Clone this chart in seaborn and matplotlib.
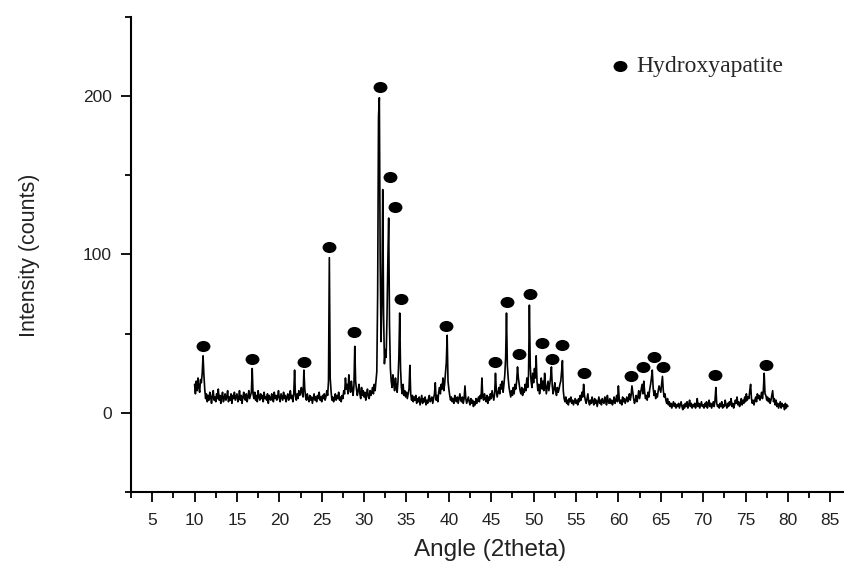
import numpy as np
import pandas as pd
import matplotlib
matplotlib.use("Agg")
import matplotlib.pyplot as plt
from matplotlib.path import Path
from matplotlib.transforms import Affine2D
from matplotlib.ticker import MultipleLocator
import seaborn as sns

# XRD scan, 10-80 deg, 0.1 deg step (one row per degree)
start_angle = 10.0
step = 0.1
intensity_rows = [
    [18, 12, 20, 14, 22, 16, 13, 21, 19, 25],   # 10
    [36, 24, 15, 9, 12, 7, 11, 8, 13, 10],      # 11
    [6, 11, 14, 8, 10, 7, 12, 9, 15, 8],        # 12
    [11, 6, 10, 13, 7, 9, 12, 8, 10, 14],       # 13
    [7, 10, 8, 12, 6, 11, 9, 13, 8, 10],        # 14
    [12, 7, 9, 14, 8, 11, 6, 10, 13, 9],        # 15
    [8, 12, 7, 10, 14, 9, 11, 13, 28, 12],      # 16
    [9, 13, 8, 11, 7, 14, 10, 8, 12, 9],        # 17
    [11, 7, 13, 9, 10, 8, 12, 6, 11, 9],        # 18
    [8, 12, 10, 7, 13, 9, 11, 8, 10, 14],       # 19
    [9, 7, 12, 10, 8, 13, 9, 11, 7, 10],        # 20
    [12, 8, 10, 14, 9, 11, 7, 12, 27, 11],      # 21
    [8, 12, 9, 14, 11, 13, 16, 12, 10, 27],     # 22
    [15, 10, 8, 12, 9, 7, 11, 8, 10, 6],        # 23
    [9, 12, 8, 10, 7, 11, 9, 13, 8, 10],        # 24
    [7, 11, 9, 12, 8, 10, 14, 11, 20, 98],      # 25
    [22, 14, 8, 10, 7, 9, 12, 8, 11, 9],        # 26
    [13, 8, 10, 7, 11, 9, 14, 12, 22, 15],      # 27
    [18, 12, 24, 16, 13, 20, 15, 11, 17, 42],   # 28
    [20, 15, 11, 14, 18, 12, 9, 16, 11, 14],    # 29
    [10, 13, 8, 12, 15, 10, 9, 14, 11, 13],     # 30
    [16, 12, 18, 14, 20, 26, 75, 187, 199, 95], # 31
    [45, 70, 141, 62, 31, 40, 35, 60, 95, 123], # 32
    [55, 28, 20, 16, 24, 18, 14, 22, 17, 13],   # 33
    [20, 35, 63, 28, 16, 12, 18, 11, 14, 10],   # 34
    [13, 9, 12, 15, 30, 12, 8, 11, 7, 10],      # 35
    [8, 11, 6, 9, 7, 10, 5, 8, 11, 6],          # 36
    [9, 7, 10, 5, 8, 6, 9, 11, 7, 8],           # 37
    [10, 6, 9, 12, 19, 8, 11, 7, 13, 16],       # 38
    [12, 18, 15, 22, 14, 18, 25, 32, 49, 20],   # 39
    [15, 11, 8, 10, 7, 9, 6, 11, 8, 7],         # 40
    [10, 6, 9, 12, 8, 7, 10, 6, 9, 17],         # 41
    [9, 6, 8, 10, 7, 5, 9, 6, 8, 4],            # 42
    [7, 5, 9, 6, 8, 10, 7, 11, 9, 22],          # 43
    [10, 8, 12, 9, 7, 11, 6, 10, 8, 12],        # 44
    [9, 14, 11, 8, 12, 25, 14, 10, 13, 16],     # 45
    [12, 18, 15, 20, 13, 18, 24, 35, 63, 30],   # 46
    [22, 16, 13, 10, 14, 11, 16, 12, 18, 15],   # 47
    [20, 29, 22, 18, 14, 12, 16, 11, 15, 13],   # 48
    [18, 14, 22, 16, 24, 68, 30, 20, 16, 25],   # 49
    [19, 28, 22, 36, 20, 14, 18, 12, 16, 22],   # 50
    [15, 20, 14, 25, 18, 12, 16, 20, 14, 18],   # 51
    [22, 29, 17, 12, 15, 19, 14, 11, 16, 13],   # 52
    [15, 18, 20, 26, 33, 14, 9, 7, 10, 6],      # 53
    [8, 5, 9, 7, 10, 6, 8, 5, 7, 9],            # 54
    [6, 8, 5, 9, 7, 11, 8, 13, 10, 18],         # 55
    [11, 8, 6, 9, 12, 7, 5, 8, 6, 10],          # 56
    [7, 5, 9, 6, 8, 4, 7, 10, 6, 8],            # 57
    [5, 9, 7, 6, 10, 8, 5, 11, 7, 6],           # 58
    [9, 6, 8, 5, 7, 10, 6, 8, 11, 7],           # 59
    [17, 9, 6, 8, 5, 10, 7, 9, 6, 8],           # 60
    [10, 7, 9, 12, 8, 11, 17, 13, 9, 6],        # 61
    [8, 11, 7, 10, 14, 9, 12, 15, 18, 12],      # 62
    [20, 13, 9, 11, 8, 13, 10, 15, 18, 22],     # 63
    [27, 16, 11, 14, 9, 12, 10, 14, 17, 15],    # 64
    [13, 18, 23, 14, 10, 12, 8, 6, 9, 5],       # 65
    [7, 4, 6, 3, 5, 7, 4, 6, 3, 5],             # 66
    [4, 6, 3, 5, 7, 4, 2, 5, 3, 6],             # 67
    [4, 7, 3, 5, 8, 4, 6, 3, 5, 4],             # 68
    [6, 3, 5, 9, 4, 6, 3, 5, 7, 4],             # 69
    [5, 3, 6, 4, 7, 3, 5, 8, 4, 6],             # 70
    [3, 5, 7, 4, 8, 16, 6, 4, 5, 3],            # 71
    [6, 4, 7, 3, 5, 4, 8, 5, 3, 6],             # 72
    [4, 7, 5, 9, 4, 6, 3, 5, 8, 6],             # 73
    [10, 5, 7, 4, 6, 9, 5, 8, 6, 10],           # 74
    [7, 12, 8, 10, 9, 14, 18, 9, 6, 8],         # 75
    [5, 8, 10, 7, 12, 9, 11, 8, 10, 13],        # 76
    [9, 14, 25, 12, 11, 8, 10, 7, 9, 6],        # 77
    [8, 11, 14, 7, 9, 5, 8, 4, 6, 3],           # 78
    [5, 7, 3, 6, 4, 5, 2, 6, 3, 5],             # 79
    [4],                                        # 80
]

# hydroxyapatite peak markers
marker_x = [11.0, 16.8, 22.9, 25.9, 28.8, 31.9, 33.0, 33.7, 34.4, 39.7, 45.5, 46.9,
            48.3, 49.6, 51.0, 52.2, 53.4, 56.0, 61.5, 62.9, 64.2, 65.3, 71.4, 77.4]
marker_y = [42, 34, 32, 105, 51, 206, 149, 130, 72, 55, 32, 70,
            37, 75, 44, 34, 43, 25, 23, 29, 35, 29, 24, 30]

intensity = [v for row in intensity_rows for v in row]
angle = np.round(start_angle + step * np.arange(len(intensity)), 1)
df = pd.DataFrame({"angle": angle, "intensity": intensity})

sns.set_theme(style="ticks")
plt.rcParams["font.family"] = ["Liberation Sans", "DejaVu Sans"]

fig = plt.figure(figsize=(8.45, 5.63), dpi=100)
ax = fig.add_axes([131 / 845, 71 / 563, 712 / 845, 475 / 563])

sns.lineplot(data=df, x="angle", y="intensity", ax=ax, color="black",
             linewidth=1.2, estimator=None, sort=False)

# slightly flattened dots like the original
dot = Path.unit_circle().transformed(Affine2D().scale(1.0, 0.8))
ax.scatter(marker_x, marker_y, marker=dot, s=100, color="black", zorder=3, linewidths=0)

ax.scatter([60.2], [219], marker=dot, s=100, color="black", zorder=3, linewidths=0)
ax.text(62.1, 219, "Hydroxyapatite", fontsize=17, va="center", ha="left",
        family=["Liberation Serif", "DejaVu Serif"])

ax.set_xlim(2.5, 86.5)
ax.set_ylim(-50, 250)
ax.xaxis.set_major_locator(MultipleLocator(5))
ax.xaxis.set_minor_locator(MultipleLocator(2.5))
ax.set_xticks(range(5, 90, 5))
ax.yaxis.set_major_locator(MultipleLocator(100))
ax.yaxis.set_minor_locator(MultipleLocator(50))
ax.set_yticks([0, 100, 200])

for s in ["top", "right"]:
    ax.spines[s].set_visible(False)
for s in ["left", "bottom"]:
    ax.spines[s].set_linewidth(1.5)
    ax.spines[s].set_color("black")

ax.tick_params(which="major", direction="out", length=7, width=1.3, colors="black",
               labelsize=12.5, labelcolor="#222222")
ax.tick_params(axis="y", which="major", pad=7)
ax.tick_params(axis="x", which="major", pad=8)
ax.tick_params(which="minor", direction="out", length=4, width=1.3, colors="black")

ax.set_xlabel("Angle (2theta)", fontsize=17.5, color="#222222")
ax.set_ylabel("Intensity (counts)", fontsize=15.5, color="#222222")
ax.xaxis.set_label_coords((490 - 131) / 712, -(550 - 492) / 475)
ax.xaxis.label.set_va("center")
ax.yaxis.set_label_coords(-(131 - 30) / 712, (492 - 255) / 475)
ax.yaxis.label.set_va("center")

fig.savefig("out.png", dpi=100)
